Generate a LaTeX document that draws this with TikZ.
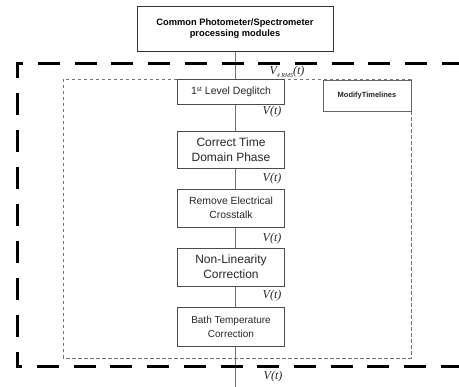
\documentclass[tikz,border=0pt]{standalone}
\usepackage{fontspec}
\setmainfont{Liberation Sans}
\newfontfamily\serifv{Liberation Serif}
\usetikzlibrary{backgrounds}
\begin{document}
\begin{tikzpicture}[x=1pt,y=-1pt,
  flowbox/.style={draw=black!70, line width=0.7pt, fill=white, minimum width=107pt,
    inner sep=0pt, align=center, text=black!85},
  vlabel/.style={font=\serifv\itshape\fontsize{12}{12}\selectfont, inner sep=0pt, text=black!85},
  thickdash/.style={line width=3pt, black},
  graydash/.style={draw=black!55, line width=0.6pt, dash pattern=on 3.5pt off 2.5pt},
  flowline/.style={draw=black!55, line width=0.6pt}]
\useasboundingbox (0,0) rectangle (459,387);
\clip (0,0) rectangle (459,387);

% top box
\node[draw=black!80, line width=0.7pt, fill=white, minimum width=196pt, minimum height=45pt,
  inner sep=0pt, align=center, font={\bfseries\fontsize{9.3}{11}\selectfont}]
  (top) at (235,28.5) {Common Photometer/Spectrometer\\processing modules};

% flow boxes
\node[flowbox, minimum height=25pt, font={\fontsize{10.5}{12}\selectfont}]
  (b1) at (231,91.5) {1\raisebox{3pt}{\fontsize{6.5}{7}\selectfont st} Level Deglitch};
\node[flowbox, minimum height=37pt, font={\fontsize{12}{14.5}\selectfont}]
  (b2) at (231,149.5) {Correct Time\\Domain Phase};
\node[flowbox, minimum height=38pt, font={\fontsize{10.4}{14}\selectfont}]
  (b3) at (231,208) {Remove Electrical\\Crosstalk};
\node[flowbox, minimum height=38pt, font={\fontsize{12}{15}\selectfont}]
  (b4) at (231,267) {Non-Linearity\\Correction};
\node[flowbox, minimum height=39pt, font={\fontsize{10}{14}\selectfont}]
  (b5) at (231,327) {Bath Temperature\\Correction};

% modify timelines
\node[draw=black!60, line width=0.7pt, fill=white, minimum width=88pt, minimum height=31pt,
  inner sep=0pt, font={\bfseries\fontsize{7.5}{8}\selectfont}, text=black!85]
  (mt) at (367,95.5) {ModifyTimelines};

\coordinate (end) at (235,387);

% labels
\node[vlabel] (vrms) at (287,72) {V\raisebox{-3.5pt}{\fontsize{6}{6}\selectfont 4 RMS}(t)};
\node[vlabel] (v1) at (272,112) {V(t)};
\node[vlabel] (v2) at (272,179) {V(t)};
\node[vlabel] (v3) at (272,238.5) {V(t)};
\node[vlabel] (v4) at (272,296) {V(t)};
\node[vlabel] (v5) at (273,377) {V(t)};

\begin{pgfonlayer}{background}
  \draw[flowline] (top.south) -- (end);
  \draw[graydash] (63,79) rectangle (411,358);
\end{pgfonlayer}

% thick dashed frame
\draw[thickdash, dash pattern=on 22pt off 14.7pt, dash phase=14.2pt] (15.5,64) -- (470,64);
\draw[thickdash, dash pattern=on 22pt off 15pt, dash phase=6.5pt] (17,62.5) -- (17,368.5);
\draw[thickdash, dash pattern=on 22pt off 14.7pt, dash phase=15.2pt] (15.5,367) -- (470,367);
\end{tikzpicture}
\end{document}
